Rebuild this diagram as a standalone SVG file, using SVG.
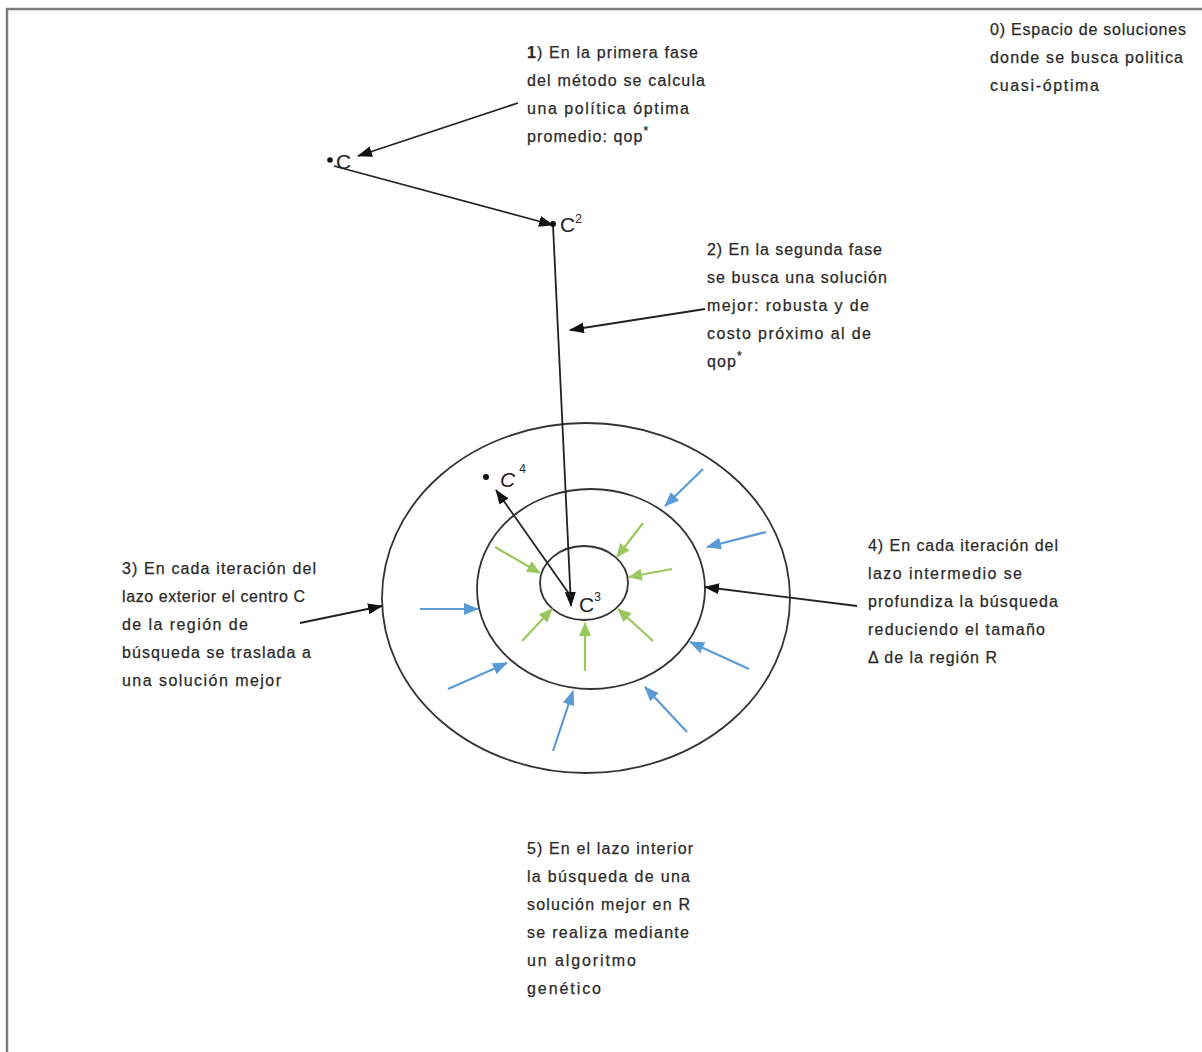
<svg xmlns="http://www.w3.org/2000/svg" width="1202" height="1052" viewBox="0 0 1202 1052">
<style>
.t{font-family:"Liberation Sans",Arial,sans-serif;font-size:16px;fill:#2a2a2a;stroke:#2a2a2a;stroke-width:0.25}
.lbl{font-family:"Liberation Sans",Arial,sans-serif;font-size:21px;fill:#222}
.sup{font-family:"Liberation Sans",Arial,sans-serif;font-size:12px;fill:#222}
.blk{stroke:#222;stroke-width:1.8;fill:none}
.blue{stroke:#5b9bd5;stroke-width:2.2;fill:none}
.green{stroke:#9bc75f;stroke-width:2.2;fill:none}
.circ{stroke:#333;stroke-width:1.8;fill:none}
</style>
<defs>
<marker id="ak" markerUnits="userSpaceOnUse" markerWidth="15" markerHeight="11" refX="14" refY="5.5" orient="auto"><path d="M0,0 L15,5.5 L0,11 Z" fill="#111"/></marker>
<marker id="ab" markerUnits="userSpaceOnUse" markerWidth="15" markerHeight="12" refX="14" refY="6" orient="auto"><path d="M0,0 L15,6 L0,12 Z" fill="#5b9bd5"/></marker>
<marker id="ag" markerUnits="userSpaceOnUse" markerWidth="14" markerHeight="12" refX="13" refY="6" orient="auto"><path d="M0,0 L14,6 L0,12 Z" fill="#9bc75f"/></marker>
</defs>
<rect width="1202" height="1052" fill="#fff"/>
<g id="frame"><path d="M7,1052 L7,9 L1202,9" stroke="#7a7a7a" stroke-width="2.5" fill="none"/></g>

<g id="regions">
<ellipse cx="586" cy="598" rx="204" ry="175" class="circ"/>
<ellipse cx="591" cy="589" rx="114" ry="100" class="circ"/>
<ellipse cx="584" cy="583" rx="44" ry="37" class="circ"/>
</g>

<g id="connectors">
<line x1="518" y1="103" x2="358" y2="156" class="blk" marker-end="url(#ak)"/>
<line x1="334" y1="166" x2="553" y2="225" class="blk" marker-end="url(#ak)"/>
<line x1="553" y1="225" x2="571" y2="606" class="blk" marker-end="url(#ak)"/>
<line x1="705" y1="309" x2="570" y2="330" class="blk" marker-end="url(#ak)"/>
<line x1="572" y1="598" x2="496" y2="490" class="blk" marker-end="url(#ak)"/>
<line x1="300" y1="623" x2="382" y2="606" class="blk" marker-end="url(#ak)"/>
<line x1="857" y1="606" x2="705" y2="587" class="blk" marker-end="url(#ak)"/>
<line x1="703" y1="469" x2="665" y2="506" class="blue" marker-end="url(#ab)"/>
<line x1="766" y1="532" x2="707" y2="547" class="blue" marker-end="url(#ab)"/>
<line x1="420" y1="609" x2="478" y2="609" class="blue" marker-end="url(#ab)"/>
<line x1="448" y1="689" x2="507" y2="663" class="blue" marker-end="url(#ab)"/>
<line x1="553" y1="751" x2="573" y2="691" class="blue" marker-end="url(#ab)"/>
<line x1="687" y1="732" x2="645" y2="687" class="blue" marker-end="url(#ab)"/>
<line x1="749" y1="669" x2="690" y2="642" class="blue" marker-end="url(#ab)"/>
<line x1="495" y1="547" x2="540" y2="573" class="green" marker-end="url(#ag)"/>
<line x1="643" y1="523" x2="617" y2="557" class="green" marker-end="url(#ag)"/>
<line x1="672" y1="569" x2="629" y2="577" class="green" marker-end="url(#ag)"/>
<line x1="522" y1="641" x2="552" y2="609" class="green" marker-end="url(#ag)"/>
<line x1="585" y1="671" x2="585" y2="623" class="green" marker-end="url(#ag)"/>
<line x1="653" y1="641" x2="618" y2="609" class="green" marker-end="url(#ag)"/>
</g>

<g id="point-C">
<circle cx="330" cy="160" r="2.8" fill="#111"/>
<text x="336" y="169" class="lbl">C</text>
</g>
<g id="point-C2">
<circle cx="553" cy="224" r="3" fill="#111"/>
<text x="560" y="232" class="lbl">C<tspan class="sup" dy="-9">2</tspan></text>
</g>
<g id="point-C3">
<text x="579" y="612" class="lbl">C<tspan class="sup" dy="-11">3</tspan></text>
</g>
<g id="point-C4">
<circle cx="486" cy="477" r="3" fill="#111"/>
<text x="500" y="487" class="lbl" font-style="italic">C<tspan class="sup" dx="4" dy="-14" font-style="normal">4</tspan></text>
</g>

<g id="note-0">
<text x="990" y="35" class="t" textLength="196" lengthAdjust="spacing">0) Espacio de soluciones</text>
<text x="990" y="63" class="t" textLength="193" lengthAdjust="spacing">donde se busca politica</text>
<text x="990" y="91" class="t" textLength="109" lengthAdjust="spacing">cuasi-óptima</text>
</g>
<g id="note-1">
<text x="527" y="58" class="t" textLength="171" lengthAdjust="spacing"><tspan font-weight="bold">1</tspan>) En la primera fase</text>
<text x="527" y="86" class="t" textLength="178" lengthAdjust="spacing">del método se calcula</text>
<text x="527" y="114" class="t" textLength="162" lengthAdjust="spacing">una política óptima</text>
<text x="527" y="142" class="t" letter-spacing="1.1">promedio: qop<tspan class="sup" font-size="9" dy="-7">*</tspan></text>
</g>
<g id="note-2">
<text x="707" y="255" class="t" textLength="175" lengthAdjust="spacing">2) En la segunda fase</text>
<text x="707" y="283" class="t" textLength="180" lengthAdjust="spacing">se busca una solución</text>
<text x="707" y="311" class="t" textLength="162" lengthAdjust="spacing">mejor: robusta y de</text>
<text x="707" y="339" class="t" textLength="164" lengthAdjust="spacing">costo próximo al de</text>
<text x="707" y="367" class="t" letter-spacing="1.1">qop<tspan class="sup" font-size="9" dy="-7">*</tspan></text>
</g>
<g id="note-3">
<text x="122" y="574" class="t" textLength="194" lengthAdjust="spacing">3) En cada iteración del</text>
<text x="122" y="602" class="t" textLength="183" lengthAdjust="spacing">lazo exterior el centro C</text>
<text x="122" y="630" class="t" textLength="126" lengthAdjust="spacing">de la región de</text>
<text x="122" y="658" class="t" textLength="189" lengthAdjust="spacing">búsqueda se traslada a</text>
<text x="122" y="686" class="t" textLength="159" lengthAdjust="spacing">una solución mejor</text>
</g>
<g id="note-4">
<text x="868" y="551" class="t" textLength="190" lengthAdjust="spacing">4) En cada iteración del</text>
<text x="868" y="579" class="t" textLength="154" lengthAdjust="spacing">lazo intermedio se</text>
<text x="868" y="607" class="t" textLength="190" lengthAdjust="spacing">profundiza la búsqueda</text>
<text x="868" y="635" class="t" textLength="177" lengthAdjust="spacing">reduciendo el tamaño</text>
<text x="868" y="663" class="t" textLength="129" lengthAdjust="spacing">Δ de la región R</text>
</g>
<g id="note-5">
<text x="527" y="854" class="t" textLength="166" lengthAdjust="spacing">5) En el lazo interior</text>
<text x="527" y="882" class="t" textLength="163" lengthAdjust="spacing">la búsqueda de una</text>
<text x="527" y="910" class="t" textLength="163" lengthAdjust="spacing">solución mejor en R</text>
<text x="527" y="938" class="t" textLength="162" lengthAdjust="spacing">se realiza mediante</text>
<text x="527" y="966" class="t" textLength="109" lengthAdjust="spacing">un algoritmo</text>
<text x="527" y="994" class="t" textLength="74" lengthAdjust="spacing">genético</text>
</g>
</svg>
